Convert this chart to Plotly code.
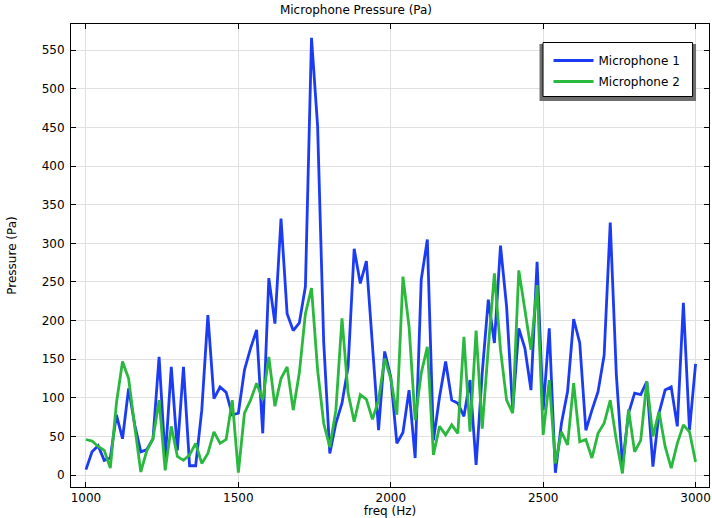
import plotly.graph_objects as go

freq = [1000 + 20 * i for i in range(101)]

mic1 = [7, 30, 38, 19, 22, 78, 47, 112, 65, 30,
        33, 47, 153, 20, 140, 32, 140, 12, 12, 84,
        207, 99, 114, 107, 78, 80, 136, 164, 188, 54,
        255, 196, 332, 209, 187, 197, 244, 566, 452, 172,
        28, 67, 93, 140, 293, 248, 277, 170, 58, 160,
        127, 41, 55, 110, 22, 253, 305, 45, 101, 147,
        97, 93, 76, 123, 13, 132, 227, 171, 297, 218,
        84, 190, 164, 110, 276, 84, 190, 3, 67, 108,
        202, 171, 58, 84, 108, 155, 327, 130, 13, 80,
        106, 104, 121, 11, 80, 110, 114, 63, 223, 58,
        144]

mic2 = [46, 44, 37, 32, 9, 93, 147, 125, 63, 4,
        32, 47, 97, 6, 63, 24, 19, 26, 41, 15,
        28, 56, 41, 46, 97, 3, 80, 97, 119, 97,
        153, 89, 125, 140, 84, 132, 209, 242, 136, 67,
        36, 84, 203, 106, 69, 104, 98, 72, 97, 151,
        125, 78, 257, 192, 71, 132, 166, 26, 63, 52,
        65, 54, 179, 56, 187, 60, 165, 261, 162, 97,
        80, 265, 214, 162, 246, 52, 123, 15, 56, 39,
        119, 43, 46, 22, 54, 67, 97, 45, 2, 85,
        30, 45, 121, 50, 82, 37, 9, 41, 65, 56,
        17]

x_ticks = [1000, 1500, 2000, 2500, 3000]
y_ticks = list(range(0, 551, 50))

FONT = "DejaVu Sans"
W, H = 712, 518
L, R, T, B = 71, 1, 24, 31
PW, PH = W - L - R, H - T - B


def px_x(p):
    return (p - L) / PW


def px_y(p):
    return (H - B - p) / PH


fig = go.Figure()
fig.add_trace(go.Scatter(x=freq, y=mic1, mode="lines", name="Microphone 1",
                         legendgroup="a",
                         line=dict(color="#1c3cf4", width=2.8)))
fig.add_trace(go.Scatter(x=freq, y=mic2, mode="lines", name="Microphone 2",
                         legendgroup="b",
                         line=dict(color="#2bb83e", width=2.8)))

# legend shadow and frame
fig.add_shape(type="rect", xref="paper", yref="paper",
              x0=px_x(541), x1=px_x(698), y0=px_y(101), y1=px_y(44),
              fillcolor="#6e6e6e", line=dict(width=0), layer="above")
fig.add_shape(type="rect", xref="paper", yref="paper",
              x0=px_x(544.5), x1=px_x(694.5), y0=px_y(96.5), y1=px_y(42.5),
              fillcolor="white", line=dict(color="black", width=1), layer="above")

axis_common = dict(showline=True, linecolor="black", linewidth=1, mirror="allticks",
                   ticks="inside", ticklen=5, tickcolor="black",
                   showgrid=True, gridcolor="#e0e0e0", gridwidth=1,
                   zeroline=False, ticklabeloverflow="allow",
                   tickfont=dict(family=FONT, size=12, color="black"))

fig.update_layout(
    width=W, height=H,
    margin=dict(l=L, r=R, t=T, b=B),
    paper_bgcolor="white", plot_bgcolor="white",
    font=dict(family=FONT, size=12, color="black"),
    title=dict(text="Microphone Pressure (Pa)", x=0.5, xanchor="center",
               y=1 - 10 / H, yanchor="middle", yref="container",
               font=dict(family=FONT, size=12, color="black")),
    xaxis=dict(range=[951, 3044], tickvals=x_ticks,
               title=dict(text="freq (Hz)", standoff=2,
                          font=dict(family=FONT, size=12, color="black")),
               **axis_common),
    yaxis=dict(range=[-15.5, 584], tickvals=y_ticks, ticklabelstandoff=3,
               title=dict(text="Pressure (Pa)", standoff=22,
                          font=dict(family=FONT, size=12, color="black")),
               **axis_common),
    legend=dict(x=px_x(550), xanchor="left", y=px_y(46), yanchor="top",
                bgcolor="rgba(0,0,0,0)", borderwidth=0,
                font=dict(family=FONT, size=12, color="black"),
                itemwidth=40, traceorder="grouped", tracegroupgap=2),
    showlegend=True,
)

fig.write_html("out.html", config={"displayModeBar": False},
               post_script="document.body.style.margin='0';")
